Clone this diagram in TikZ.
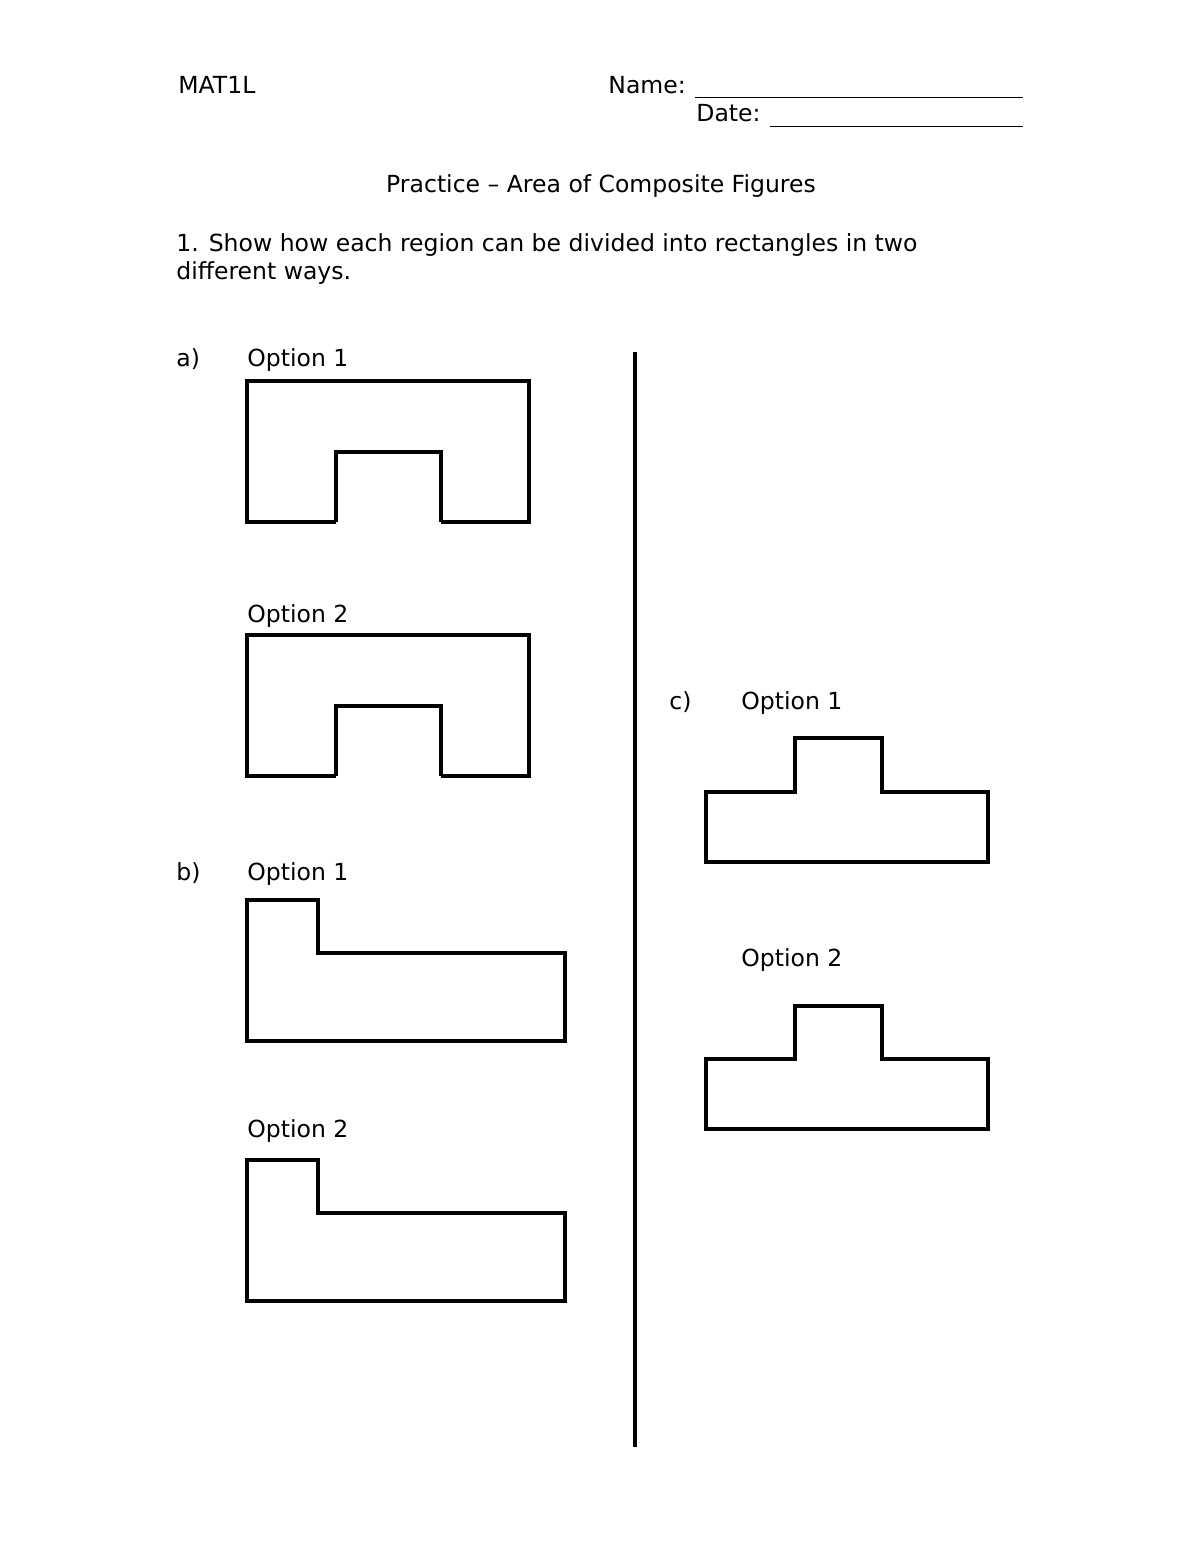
\documentclass[tikz,border=0pt]{standalone}
\usepackage{fontspec}
\setmainfont{DejaVu Sans}
\begin{document}
\begin{tikzpicture}[x=0.51pt,y=-0.51pt,
  txt/.style={anchor=base west,inner sep=0pt,font=\fontsize{12}{14}\selectfont},
  outline/.style={line width=1.9pt,line join=miter},
  rule/.style={line width=1pt}]
\useasboundingbox (0,0) rectangle (1200,1553);
% header
\node[txt] (mat) at (178,94) {MAT1L};
\node[txt] (name) at (608,94) {Name:};
\coordinate (n1) at (695,97.5);
\coordinate (n2) at (1023,97.5);
\draw[rule] (n1) -- (n2);
\node[txt] (date) at (696,122) {Date:};
\coordinate (d1) at (770,126.5);
\coordinate (d2) at (1023,126.5);
\draw[rule] (d1) -- (d2);
\node[txt,anchor=base] (title) at (601,193) {Practice – Area of Composite Figures};
\node[txt] (q1) at (176,251) {1. Show how each region can be divided into rectangles in two};
\node[txt] (q1b) at (176,279) {different ways.};
% divider
\coordinate (v1) at (635,352);
\coordinate (v2) at (635,1447);
\draw[outline] (v1) -- (v2);
% a)
\node[txt] (la) at (176,366) {a)};
\node[txt] (a1) at (247,366) {Option 1};
\draw[outline] (336,522) -- (247,522) -- (247,381) -- (529,381) -- (529,522) -- (441,522)
  (336,522) -- (336,452) -- (441,452) -- (441,522);
\node[txt] (a2) at (247,622) {Option 2};
\draw[outline] (336,776) -- (247,776) -- (247,635) -- (529,635) -- (529,776) -- (441,776)
  (336,776) -- (336,706) -- (441,706) -- (441,776);
% b)
\node[txt] (lb) at (176,880) {b)};
\node[txt] (b1) at (247,880) {Option 1};
\draw[outline] (247,900) -- (318,900) -- (318,953) -- (565,953) -- (565,1041) -- (247,1041) -- cycle;
\node[txt] (b2) at (247,1137) {Option 2};
\draw[outline] (247,1160) -- (318,1160) -- (318,1213) -- (565,1213) -- (565,1301) -- (247,1301) -- cycle;
% c)
\node[txt] (lc) at (669,709) {c)};
\node[txt] (c1) at (741,709) {Option 1};
\draw[outline] (795,738) -- (882,738) -- (882,792) -- (988,792) -- (988,862) -- (706,862) -- (706,792) -- (795,792) -- cycle;
\node[txt] (c2) at (741,966) {Option 2};
\draw[outline] (795,1006) -- (882,1006) -- (882,1059) -- (988,1059) -- (988,1129) -- (706,1129) -- (706,1059) -- (795,1059) -- cycle;
\end{tikzpicture}
\end{document}
